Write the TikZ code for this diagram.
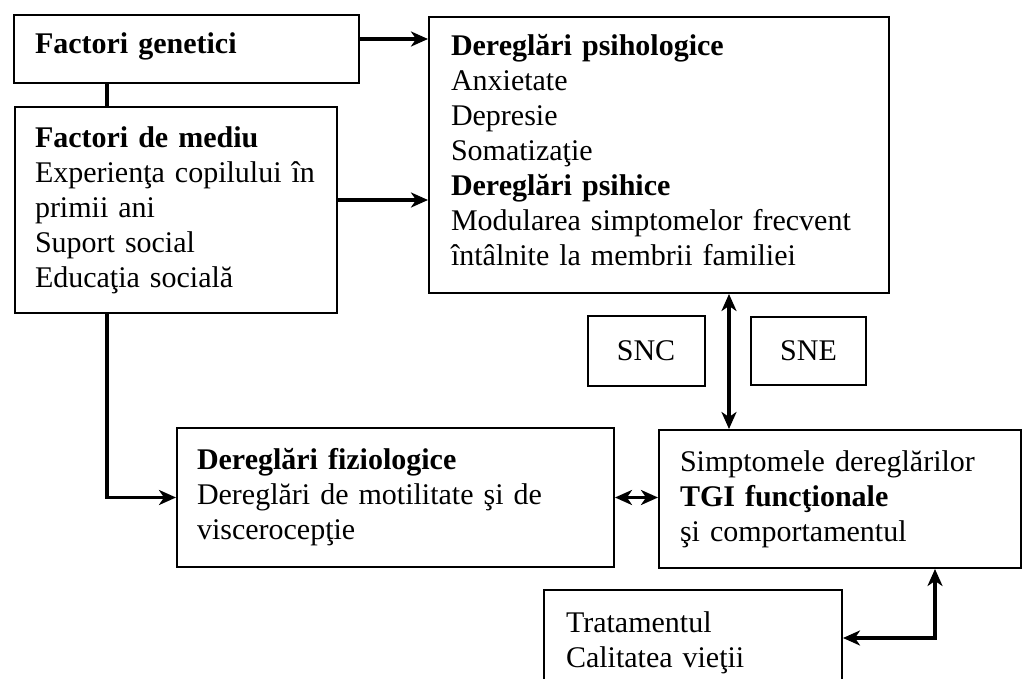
\documentclass[tikz,border=0pt]{standalone}
\usepackage{fontspec}
\setmainfont{Liberation Serif}
\usetikzlibrary{arrows.meta}
% invisible struts that lengthen the first or last line of a box
\newcommand\padbelow[1]{\rule[-#1]{0pt}{#1}}
\newcommand\padabove[1]{\rule{0pt}{#1}}
\begin{document}
\begin{tikzpicture}[x=1pt,y=-1pt,
  box/.style={draw, line width=2pt, rectangle, inner sep=0pt, align=left,
    font=\fontsize{30}{35}\selectfont},
  smallbox/.style={draw, line width=2pt, rectangle, inner sep=0pt, align=center,
    font=\fontsize{30}{35}\selectfont},
  link/.style={line width=3.5pt},
  tip/.style={-{Stealth[length=17pt,width=15pt,inset=5pt]}},
  tips/.style={{Stealth[length=17pt,width=15pt,inset=5pt]}-{Stealth[length=17pt,width=15pt,inset=5pt]}}
]
\useasboundingbox (0,0) rectangle (1023,679);
\clip (0,0) rectangle (1023,679);

% left column
\node[box, minimum width=345pt, minimum height=68pt, text width=303pt] (gen) at (186.5,49)
  {\textbf{Factori genetici}\padbelow{11pt}};
\node[box, minimum width=322pt, minimum height=206pt, text width=282pt] (med) at (176,210)
  {\textbf{Factori de mediu}\\
   Experienţa copilului în\\
   primii ani\\
   Suport social\\
   Educaţia socială};

% psychological disorders
\node[box, minimum width=460pt, minimum height=276pt, text width=416pt] (psi) at (659,155)
  {\textbf{Dereglări psihologice}\\
   Anxietate\\
   Depresie\\
   Somatizaţie\\
   \textbf{Dereglări psihice}\\
   Modularea simptomelor frecvent\\
   întâlnite la membrii familiei\padbelow{10pt}};

% nervous systems
\node[smallbox, minimum width=117pt, minimum height=70pt] (snc) at (646,351) {SNC};
\node[smallbox, minimum width=115pt, minimum height=68pt] (sne) at (808.5,351) {SNE};

% physiological disorders and symptoms
\node[box, minimum width=437pt, minimum height=139pt, text width=397pt] (fiz) at (395.5,497.5)
  {\textbf{Dereglări fiziologice}\\
   Dereglări de motilitate şi de\\
   viscerocepţie};
\node[box, minimum width=362pt, minimum height=138pt, text width=320pt] (sim) at (840,499)
  {Simptomele dereglărilor\\
   \textbf{TGI funcţionale}\\
   şi comportamentul};

% treatment
\node[box, minimum width=298pt, minimum height=96pt, text width=254pt] (tra) at (693,638)
  {\padabove{31pt}Tratamentul\\
   Calitatea vieţii};

% connectors
\draw[link] (gen.south -| 107,0) -- (med.north -| 107,0);
\draw[link, tip] ([yshift=10pt]gen.east) -- ([yshift=10pt]gen.east -| psi.west);
\draw[link, tip] ([yshift=10pt]med.east) -- ([yshift=10pt]med.east -| psi.west);
\draw[link, tip] (med.south -| 107,0) |- (fiz.west);
\draw[link, tips] (fiz.east) -- (fiz.east -| sim.west);
\draw[link, tips] (psi.south -| 729,0) -- (sim.north -| 729,0);
\draw[link, tips] (sim.south -| 935,0) |- (tra.east);
\end{tikzpicture}
\end{document}
